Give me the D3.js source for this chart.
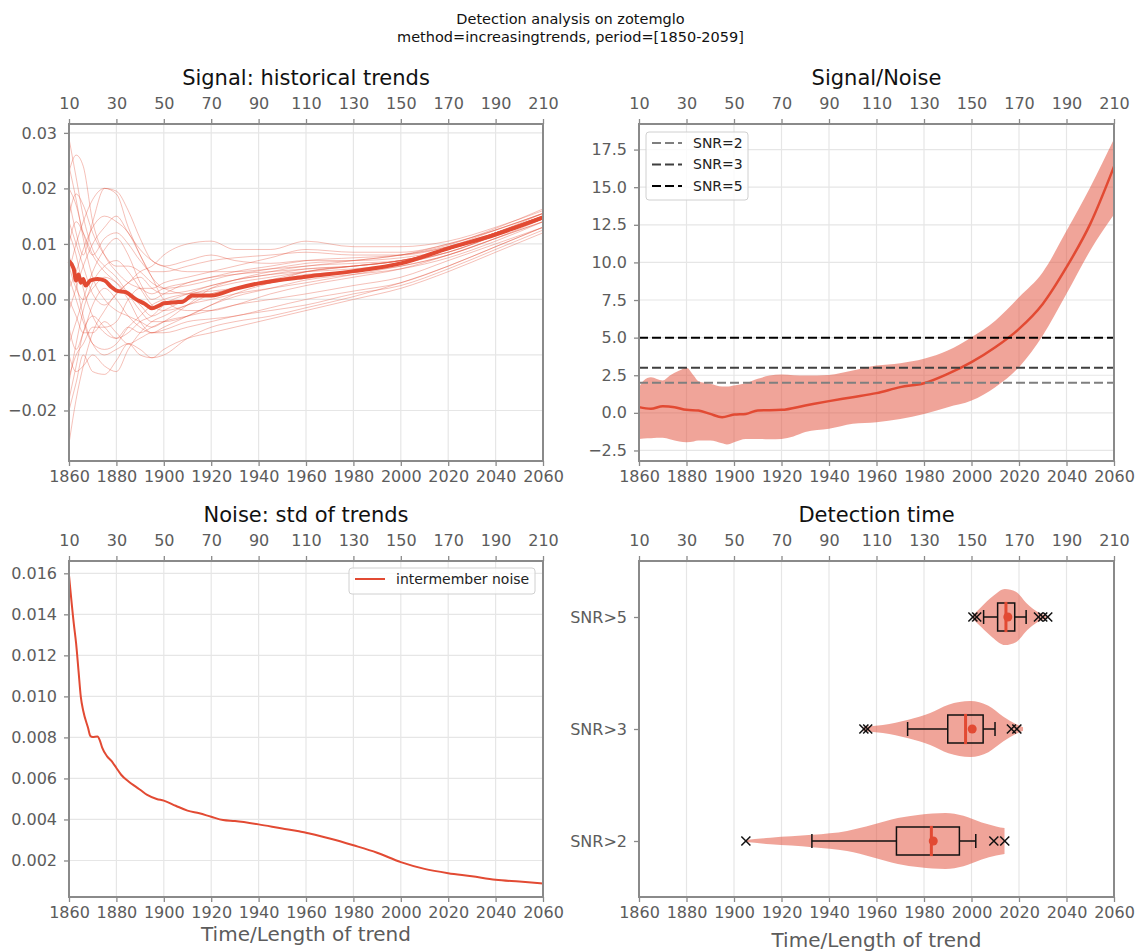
<!DOCTYPE html>
<html>
<head>
<meta charset="utf-8">
<script src="https://cdn.jsdelivr.net/npm/d3@7"></script>
<style>
  body { margin: 0; background: #fff; }
</style>
</head>
<body>
<div id="chart"></div>
<script>
// ---------------- data ----------------
const startYear = 1850;
const yearTicks = [1860, 1880, 1900, 1920, 1940, 1960, 1980, 2000, 2020, 2040, 2060];

// signal: trends of each member (units 1e-3)
const memberYears = [1860, 1863, 1866, 1870, 1875, 1880, 1885, 1890, 1895, 1900, 1910, 1920, 1930, 1945, 1960, 1980, 2000, 2020, 2040, 2060];
const members = [
	[29, 22, 15, 9, 6, 4, 1, -2, -4, -4, -3, -1, 1, 3, 5, 6, 7, 9, 12, 15.5],
	[23, 26, 24, 14, 8, 5, 3, 2, 1, 2, 3, 4, 5, 6, 7, 7.5, 8, 9.8, 12.8, 16.3],
	[-26, -18, -12, -6, -2, 1, 3, 5, 6, 8, 10, 10.5, 9, 9, 10.5, 9.5, 9.5, 10.5, 13, 16],
	[18, 12, 8, 14, 20, 19, 13, 8, 4, 2, 1, 2, 3, 4, 5, 6, 7, 9, 11.5, 14.5],
	[5, 10, 14, 18, 20, 19.5, 16, 11, 7, 6, 5, 5, 5, 5.5, 6, 7, 8, 10, 12.5, 15.5],
	[-10, -13, -12, -10, -12, -13, -9, -6, -4, -3, -1, 0, 1, 2, 3, 4.5, 6, 8, 11, 14],
	[-20, -15, -10, -13, -13.5, -11, -8, -10, -10.5, -9, -7, -6, -5, -3.5, -2, 0, 2, 5, 8.5, 12],
	[12, 8, 2, -3, -6, -7, -5, -6, -5, -4, -3, -2, -1, 0, 1, 2.5, 4, 7, 10, 13],
	[20, 17, 12, 8, 11, 12, 10, 7, 5, 5, 6, 7, 7.5, 8, 8.5, 8, 8, 9.5, 12, 15],
	[-15, -8, -2, 3, 6, 7, 5, 2, -1, -2, -1, 1, 2, 3, 4.5, 5, 6.5, 8.5, 11.5, 14.5],
	[8, 3, -3, -8, -10, -9, -8, -9, -10.5, -10, -7, -5, -4, -3, -1.5, 0.5, 3, 6, 9.5, 13],
	[2, 5, 9, 13, 15, 14, 12, 8, 4, 0, -2, -2, -1, 1, 2.5, 4, 5.5, 8, 11, 14],
	[-5, -9, -6, -1, 2, 0, -3, -5, -6, -5.5, -4, -3.5, -3, -1.5, 0, 1.5, 3, 6, 9.5, 13],
	[15, 19, 17, 12, 8, 6, 6, 5, 3, 2, 2.5, 3.5, 4.5, 5, 5.5, 6, 7, 9, 12, 15],
	[-8, -4, 0, 5, 9, 11, 8, 3, 0, 1, 3, 4, 4.5, 5.5, 6.5, 7, 8, 9.5, 12.5, 15.5],
	[0, -3, -6, -6, -4, -6, -8, -7, -6, -6, -5, -4, -3, -2, -1, 1, 2.5, 5.5, 9, 12.5],
	[24, 18, 11, 4, 0, -2, -3, -4, -5, -4, -1, 2, 3.5, 5, 6, 6.5, 7, 8.5, 11.5, 14.5],
	[-14, -10, -8, -5, -5, -4, 0, 2, 2, 3, 4, 5, 6, 7.5, 9, 8.5, 8.5, 10, 12.5, 15.5],
	[6, 2, 0, 2, 4, 3, 1, -1, -3, -2, 0, 1, 2, 3.5, 5, 6, 7, 9, 12, 15],
	[10, 14, 12, 8, 5, 3, 0, -4, -6, -5, -3, -1, 0.5, 2, 3.5, 4.5, 5.5, 7.5, 10.5, 14],
	[-2, 2, 6, 10, 13, 15, 12, 9, 7, 6, 7, 8, 7, 6.5, 7, 7, 7.5, 9, 12, 15],
	[4, 0, -4, -8, -9, -8, -5, -3, -1, 0, 1, 1.5, 2, 3, 4, 5, 6, 8, 11, 14.5],
	[-18, -12, -6, -3, -5, -7, -6, -4, -3, -1, 1, 2.5, 3.5, 4.5, 5.5, 6, 7, 9, 12, 15],
	[14, 10, 6, 1, -1, 1, 3, 4, 2, 1, 1.5, 2.5, 3.5, 4.5, 5, 5.5, 6.5, 8.5, 11.5, 14.5]
];

// signal: ensemble mean trend (units 1e-3)
const meanYears = [1860, 1862, 1863, 1864, 1865, 1866, 1867, 1869, 1872, 1875, 1878, 1880, 1884, 1888, 1892, 1895, 1898, 1900, 1905, 1908, 1912, 1920, 1930, 1940, 1960, 1980, 2000, 2020, 2040, 2060];
const meanTrend = [6.9, 5.5, 3.4, 4.5, 3.0, 3.7, 2.5, 3.4, 3.7, 3.4, 2.2, 1.6, 1.3, 0.1, -0.8, -1.6, -1.1, -0.7, -0.5, -0.4, 0.7, 0.7, 1.9, 2.9, 4.1, 5.1, 6.5, 9.2, 11.7, 14.8];

// signal / noise
const snrYears = [1860, 1865, 1870, 1875, 1880, 1885, 1890, 1895, 1900, 1905, 1910, 1920, 1930, 1940, 1950, 1960, 1970, 1980, 1990, 2000, 2010, 2020, 2030, 2040, 2050, 2060];
const snrMean = [0.38, 0.27, 0.44, 0.38, 0.2, 0.16, -0.07, -0.29, -0.11, -0.07, 0.16, 0.2, 0.49, 0.78, 1.04, 1.31, 1.71, 1.97, 2.59, 3.37, 4.36, 5.58, 7.24, 9.68, 12.56, 16.37];
const bandYears = [1860, 1862, 1865, 1870, 1873, 1877, 1880, 1883, 1885, 1890, 1895, 1897, 1900, 1905, 1910, 1915, 1920, 1925, 1930, 1940, 1950, 1960, 1970, 1980, 1990, 2000, 2010, 2020, 2030, 2040, 2050, 2060];
const bandUpper = [1.7, 2.15, 2.37, 2.15, 2.48, 2.81, 3.0, 2.48, 2.1, 1.93, 1.75, 1.75, 1.82, 1.97, 2.26, 2.48, 2.55, 2.5, 2.48, 2.52, 2.81, 3.14, 3.3, 3.59, 4.14, 5.03, 6.13, 7.69, 9.35, 12.1, 15.0, 18.2];
const bandLower = [-1.73, -1.7, -1.68, -1.66, -1.75, -1.9, -1.95, -1.9, -1.84, -1.84, -2.02, -2.1, -1.95, -1.73, -1.73, -1.75, -1.73, -1.57, -1.28, -1.06, -0.73, -0.62, -0.4, -0.07, 0.38, 0.82, 1.71, 3.03, 5.14, 7.91, 10.79, 13.18];
const thresholds = [2, 3, 5];
const thresholdLabels = ["SNR=2", "SNR=3", "SNR=5"];

// noise: std of trends (units 1e-3)
const noiseYears = [1860, 1862, 1863, 1864, 1865, 1866, 1868, 1869, 1870, 1872, 1873, 1874, 1876, 1878, 1880, 1882, 1885, 1888, 1890, 1893, 1897, 1900, 1905, 1910, 1915, 1920, 1925, 1930, 1940, 1950, 1957, 1960, 1970, 1980, 1990, 2000, 2010, 2020, 2030, 2040, 2050, 2060];
const noiseValues = [15.9, 13.57, 12.58, 11.27, 9.96, 9.3, 8.48, 8.07, 8.02, 8.04, 7.86, 7.5, 7.09, 6.84, 6.51, 6.18, 5.86, 5.61, 5.45, 5.2, 5.0, 4.92, 4.67, 4.43, 4.3, 4.13, 3.97, 3.92, 3.76, 3.56, 3.43, 3.35, 3.07, 2.74, 2.38, 1.92, 1.59, 1.38, 1.23, 1.06, 0.97, 0.88];

// detection time
const categories = ["SNR>2", "SNR>3", "SNR>5"];
const violinYears = [
	[1905, 1915.4, 1933, 1947.6, 1958.3, 1969, 1978.2, 1989, 1996.6, 2004.3, 2010.4, 2013.9],
	[1954.5, 1962.7, 1973.4, 1982.6, 1990.3, 1999.5, 2007.1, 2013.3, 2018.6, 2021.7],
	[2000.5, 2004.1, 2008.7, 2014.1, 2018.7, 2023.3, 2027.9, 2032.6]
];
const violinWidths = [
	[0.04, 0.12, 0.22, 0.36, 0.58, 0.82, 0.94, 1.0, 0.9, 0.66, 0.52, 0.46],
	[0.08, 0.14, 0.33, 0.57, 0.87, 1.0, 0.83, 0.45, 0.18, 0.06],
	[0.06, 0.36, 0.72, 1.0, 0.9, 0.48, 0.18, 0.03]
];
const whiskerLow = [1932.8, 1973.1, 2005.1];
const quartile1 = [1968.4, 1990.0, 2011.0];
const medians = [1983.1, 1997.5, 2014.5];
const means = [1983.9, 2000.3, 2015.3];
const quartile3 = [1994.9, 2004.9, 2018.2];
const whiskerHigh = [2001.8, 2009.9, 2023.0];
const outliers = [
	[1905, 2009.4, 2014.0],
	[1954.7, 1956.3, 2016.8, 2019.1],
	[2000.6, 2002.2, 2028.2, 2030.0, 2032.1]
];

// ---------------- drawing ----------------
const FONT = '"DejaVu Sans", sans-serif';
const red = "#E24A33";
const gridColor = "#e6e6e6";
const spineColor = "#8a8a8a";
const tickText = "#5c5c5c";

const svg = d3.select("#chart")
	.append("svg")
	.attr("width", 1141)
	.attr("height", 952)
	.style("font-family", FONT);

// suptitle
svg.selectAll(".suptitle")
	.data(["Detection analysis on zotemglo", "method=increasingtrends, period=[1850-2059]"])
	.enter()
	.append("text")
	.attr("x", 570.5)
	.attr("y", (d, i) => 24 + i * 18)
	.attr("text-anchor", "middle")
	.style("font-size", "14.5px")
	.style("fill", "#111")
	.text(d => d);

const makePanel = (box, yDomain) => {
	const g = svg.append("g");
	const x = d3.scaleLinear().domain([1860, 2060]).range([box.left, box.right]);
	const y = d3.scaleLinear().domain(yDomain).range([box.bottom, box.top]);
	return {
		box, x, y,
		grid: g.append("g"),
		data: g.append("g"),
		frame: g.append("g")
	};
};

const styleAxis = (sel) => {
	sel.select(".domain").remove();
	sel.selectAll(".tick line").style("stroke", spineColor).style("stroke-width", 1.3);
	sel.selectAll(".tick text")
		.style("fill", tickText)
		.style("font-size", "16px")
		.style("font-family", FONT);
};

const drawGrid = (p, yTicks) => {
	p.grid.selectAll(".vgrid")
		.data(yearTicks).enter()
		.append("line")
		.attr("x1", d => p.x(d)).attr("x2", d => p.x(d))
		.attr("y1", p.box.top).attr("y2", p.box.bottom)
		.style("stroke", gridColor).style("stroke-width", 1.2);
	if (!yTicks) return;
	p.grid.selectAll(".hgrid")
		.data(yTicks).enter()
		.append("line")
		.attr("x1", p.box.left).attr("x2", p.box.right)
		.attr("y1", d => p.y(d)).attr("y2", d => p.y(d))
		.style("stroke", gridColor).style("stroke-width", 1.2);
};

const drawFrame = (p, yTicks, yFormat, title, xlabel) => {
	p.frame.append("g")
		.attr("transform", `translate(0,${p.box.bottom})`)
		.call(d3.axisBottom(p.x).tickValues(yearTicks).tickFormat(d3.format("d")).tickSize(5).tickPadding(5))
		.call(styleAxis);
	p.frame.append("g")
		.attr("transform", `translate(0,${p.box.top})`)
		.call(d3.axisTop(p.x).tickValues(yearTicks).tickFormat(d => d - startYear).tickSize(5).tickPadding(10))
		.call(styleAxis);
	p.frame.append("g")
		.attr("transform", `translate(${p.box.left},0)`)
		.call(d3.axisLeft(p.y).tickValues(yTicks).tickFormat(yFormat).tickSize(5).tickPadding(7))
		.call(styleAxis);

	p.frame.append("rect")
		.attr("x", p.box.left).attr("y", p.box.top)
		.attr("width", p.box.right - p.box.left)
		.attr("height", p.box.bottom - p.box.top)
		.style("fill", "none")
		.style("stroke", spineColor)
		.style("stroke-width", 2);

	p.frame.append("text")
		.attr("x", (p.box.left + p.box.right) / 2)
		.attr("y", p.box.top - 39)
		.attr("text-anchor", "middle")
		.style("font-size", "21px")
		.style("fill", "#111")
		.text(title);

	if (xlabel) {
		p.frame.append("text")
			.attr("x", (p.box.left + p.box.right) / 2)
			.attr("y", xlabel)
			.attr("text-anchor", "middle")
			.style("font-size", "20px")
			.style("fill", tickText)
			.text("Time/Length of trend");
	}
};

const legend = (p, x0, y0, w, h, items) => {
	const lg = p.frame.append("g");
	lg.append("rect")
		.attr("x", x0).attr("y", y0)
		.attr("width", w).attr("height", h)
		.attr("rx", 3)
		.style("fill", "#fff").style("fill-opacity", 0.8)
		.style("stroke", "#d0d0d0");
	const rows = lg.selectAll(".item")
		.data(items).enter()
		.append("g")
		.attr("transform", (d, i) => `translate(${x0 + 6},${y0 + 11 + i * 21.5})`);
	rows.append("line")
		.attr("x1", 0).attr("x2", 30)
		.style("stroke", d => d.color)
		.style("stroke-width", 2)
		.style("stroke-dasharray", d => d.dash || null);
	rows.append("text")
		.attr("x", 41).attr("dy", "0.35em")
		.style("font-size", "14px")
		.style("fill", "#222")
		.text(d => d.label);
};

// --- Signal: historical trends
const tl = makePanel({left: 69, right: 543, top: 124, bottom: 461}, [-0.0291, 0.0316]);
const tlTicks = [-0.02, -0.01, 0, 0.01, 0.02, 0.03];
drawGrid(tl, tlTicks);

const trendLine = d3.line()
	.x((d, i) => tl.x(memberYears[i]))
	.y(d => tl.y(d / 1000))
	.curve(d3.curveMonotoneX);

tl.data.selectAll(".member")
	.data(members).enter()
	.append("path")
	.attr("d", trendLine)
	.style("fill", "none")
	.style("stroke", red)
	.style("stroke-opacity", 0.35)
	.style("stroke-width", 1);

tl.data.append("path")
	.datum(meanTrend)
	.attr("d", d3.line()
		.x((d, i) => tl.x(meanYears[i]))
		.y(d => tl.y(d / 1000))
		.curve(d3.curveMonotoneX))
	.style("fill", "none")
	.style("stroke", red)
	.style("stroke-width", 4);

drawFrame(tl, tlTicks, d3.format(".2f"), "Signal: historical trends");

// --- Signal/Noise
const tr = makePanel({left: 639, right: 1114, top: 124, bottom: 461}, [-3.2, 19.2]);
const trTicks = [-2.5, 0, 2.5, 5, 7.5, 10, 12.5, 15, 17.5];
drawGrid(tr, trTicks);

tr.data.append("path")
	.datum(bandYears)
	.attr("d", d3.area()
		.x(d => tr.x(d))
		.y0((d, i) => tr.y(bandLower[i]))
		.y1((d, i) => tr.y(bandUpper[i]))
		.curve(d3.curveMonotoneX))
	.style("fill", red)
	.style("fill-opacity", 0.5);

tr.data.append("path")
	.datum(snrMean)
	.attr("d", d3.line()
		.x((d, i) => tr.x(snrYears[i]))
		.y(d => tr.y(d))
		.curve(d3.curveMonotoneX))
	.style("fill", "none")
	.style("stroke", red)
	.style("stroke-width", 2.5);

const threshColors = ["#7f7f7f", "#3f3f3f", "#000"];
tr.data.selectAll(".thresh")
	.data(thresholds).enter()
	.append("line")
	.attr("x1", tr.box.left).attr("x2", tr.box.right)
	.attr("y1", d => tr.y(d)).attr("y2", d => tr.y(d))
	.style("stroke", (d, i) => threshColors[i])
	.style("stroke-width", 2)
	.style("stroke-dasharray", "9,4");

drawFrame(tr, trTicks, d3.format(".1f"), "Signal/Noise");
legend(tr, 646, 132, 102, 68, thresholdLabels.map((l, i) => ({label: l, color: threshColors[i], dash: "9,4"})));

// --- Noise: std of trends
const bl = makePanel({left: 69, right: 543, top: 561, bottom: 897}, [0.00022, 0.0166]);
const blTicks = [0.002, 0.004, 0.006, 0.008, 0.010, 0.012, 0.014, 0.016];
drawGrid(bl, blTicks);

bl.data.append("path")
	.datum(noiseValues)
	.attr("d", d3.line()
		.x((d, i) => bl.x(noiseYears[i]))
		.y(d => bl.y(d / 1000))
		.curve(d3.curveMonotoneX))
	.style("fill", "none")
	.style("stroke", red)
	.style("stroke-width", 2);

drawFrame(bl, blTicks, d3.format(".3f"), "Noise: std of trends", 941);
legend(bl, 349, 568, 186, 26, [{label: "intermember noise", color: red}]);

// --- Detection time
const br = makePanel({left: 639, right: 1114, top: 561, bottom: 897}, [0.5, 3.5]);
drawGrid(br, null);

categories.forEach((cat, i) => {
	const pos = i + 1;
	const pts = violinYears[i].map((yr, j) => [yr, violinWidths[i][j]]);

	br.data.append("path")
		.attr("d", d3.area()
			.x(d => br.x(d[0]))
			.y0(d => br.y(pos - 0.25 * d[1]))
			.y1(d => br.y(pos + 0.25 * d[1]))
			.curve(d3.curveMonotoneX)(pts))
		.style("fill", red)
		.style("fill-opacity", 0.5);

	const box = br.data.append("g")
		.style("stroke", "#111")
		.style("stroke-width", 1.5)
		.style("fill", "none");

	// whiskers and caps
	[[whiskerLow[i], quartile1[i]], [quartile3[i], whiskerHigh[i]]].forEach(([a, b]) => {
		box.append("line")
			.attr("x1", br.x(a)).attr("x2", br.x(b))
			.attr("y1", br.y(pos)).attr("y2", br.y(pos));
	});
	[whiskerLow[i], whiskerHigh[i]].forEach(v => {
		box.append("line")
			.attr("x1", br.x(v)).attr("x2", br.x(v))
			.attr("y1", br.y(pos - 0.0625)).attr("y2", br.y(pos + 0.0625));
	});
	box.append("rect")
		.attr("x", br.x(quartile1[i]))
		.attr("width", br.x(quartile3[i]) - br.x(quartile1[i]))
		.attr("y", br.y(pos + 0.125))
		.attr("height", br.y(pos - 0.125) - br.y(pos + 0.125));

	// median and mean
	br.data.append("line")
		.attr("x1", br.x(medians[i])).attr("x2", br.x(medians[i]))
		.attr("y1", br.y(pos - 0.135)).attr("y2", br.y(pos + 0.135))
		.style("stroke", red)
		.style("stroke-width", 3);
	br.data.append("circle")
		.attr("cx", br.x(means[i]))
		.attr("cy", br.y(pos))
		.attr("r", 4.5)
		.style("fill", red);

	// outliers
	br.data.selectAll(".out" + i)
		.data(outliers[i]).enter()
		.append("path")
		.attr("d", d3.symbol().type(d3.symbolX).size(55))
		.attr("transform", d => `translate(${br.x(d)},${br.y(pos)})`)
		.style("fill", "none")
		.style("stroke", "#111")
		.style("stroke-width", 1.5);
});

drawFrame(br, [1, 2, 3], d => categories[d - 1], "Detection time", 947);
</script>
</body>
</html>
